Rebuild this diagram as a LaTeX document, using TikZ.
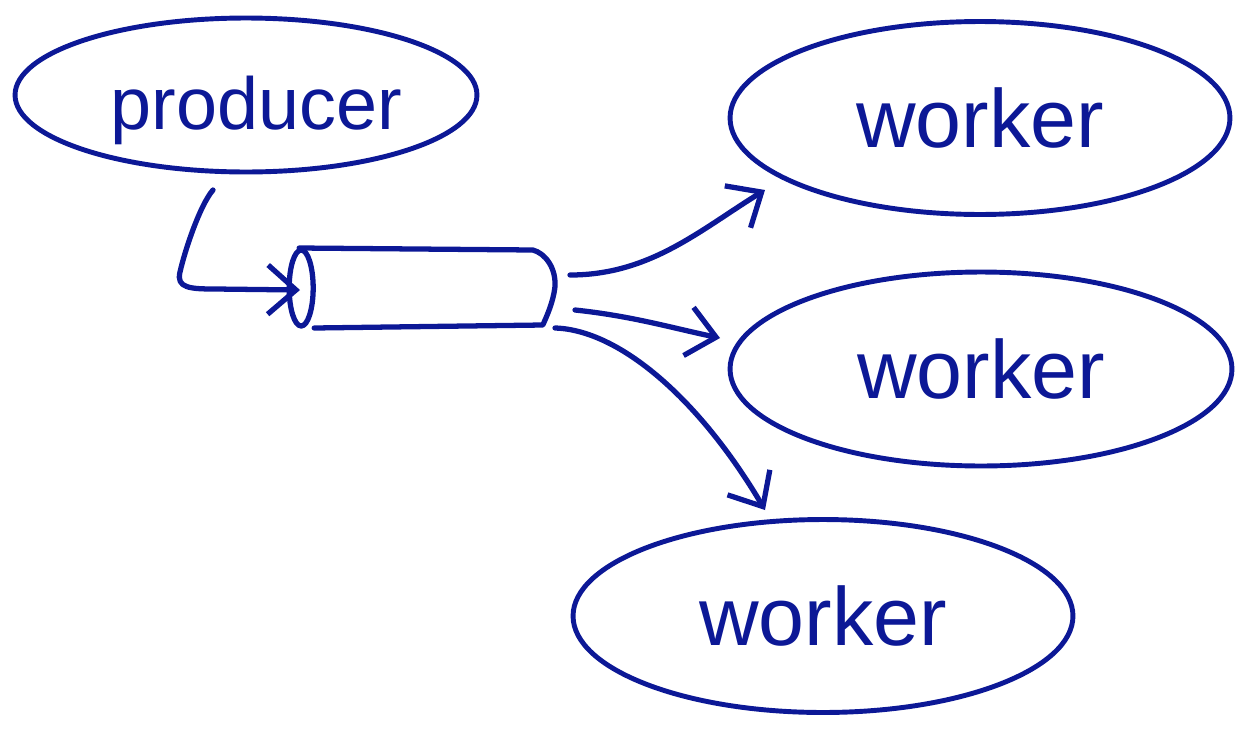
\documentclass[tikz,border=0pt]{standalone}
\usepackage{fontspec}
\setmainfont{Liberation Sans}
\usetikzlibrary{shapes.geometric,arrows.meta,calc}
\definecolor{ink}{RGB}{12,24,150}
\begin{document}
\begin{tikzpicture}[x=0.02cm,y=0.02cm,
  blob/.style={draw=ink,line width=2.8pt,ellipse,inner sep=0pt,text=ink},
  pen/.style={draw=ink,line width=3pt,line cap=round,line join=round},
  arr/.style={pen,-{Straight Barb[length=16pt,width=28pt,line width=3pt]}}]
\useasboundingbox (0,0) rectangle (1257,-734);
\node[blob,minimum width=9.24cm,minimum height=3.08cm,label={[text=ink,font=\fontsize{42}{42}\selectfont,yshift=-9pt,xshift=6pt]center:producer}] (producer) at (246,-95) {};
\node[blob,minimum width=10cm,minimum height=3.86cm,font=\fontsize{47}{47}\selectfont] (w1) at (980,-118) {worker};
\node[blob,minimum width=10.04cm,minimum height=3.88cm,font=\fontsize{47}{47}\selectfont] (w2) at (981,-369) {worker};
\node[blob,minimum width=10cm,minimum height=3.86cm,font=\fontsize{47}{47}\selectfont] (w3) at (823,-616) {worker};
\node[draw=none,minimum width=5.3cm,minimum height=1.6cm,inner sep=0pt] (queue) at (422,-288) {};
% cylinder outline
\draw[pen] ($(queue.west)+(12,0)$) ellipse [x radius=12,y radius=38];
\draw[pen] ($(queue.west)+(10,40)$) -- ($(queue.east)+(-22,38)$)
  .. controls ($(queue.east)+(-10,35)$) and ($(queue.east)+(2,20)$) .. ($(queue.east)+(0,0)$)
  .. controls ($(queue.east)+(-2,-15)$) and ($(queue.east)+(-8,-28)$) .. ($(queue.east)+(-12,-37)$)
  -- ($(queue.west)+(25,-40)$);
\draw[arr] ($(producer.center)+(-33,-95)$) .. controls ($(producer.center)+(-46,-110)$) and ($(producer.center)+(-61,-155)$) .. ($(producer.center)+(-66,-177)$) .. controls ($(producer.center)+(-70,-193)$) and ($(producer.center)+(-56,-194)$) .. ($(producer.center)+(-31,-194)$) -- ($(queue.center)+(-122,-2)$);
\draw[arr] ($(queue.center)+(148,13)$) .. controls ($(queue.center)+(228,13)$) and ($(queue.center)+(278,58)$) .. ($(w1.center)+(-215,-72)$);
\draw[arr] ($(queue.center)+(153,-22)$) .. controls ($(queue.center)+(210,-28)$) and ($(queue.center)+(250,-40)$) .. ($(w2.center)+(-261,31)$);
\draw[arr] ($(queue.center)+(133,-40)$) .. controls ($(queue.center)+(198,-42)$) and ($(queue.center)+(278,-112)$) .. ($(w3.center)+(-58,106)$);
\end{tikzpicture}
\end{document}
